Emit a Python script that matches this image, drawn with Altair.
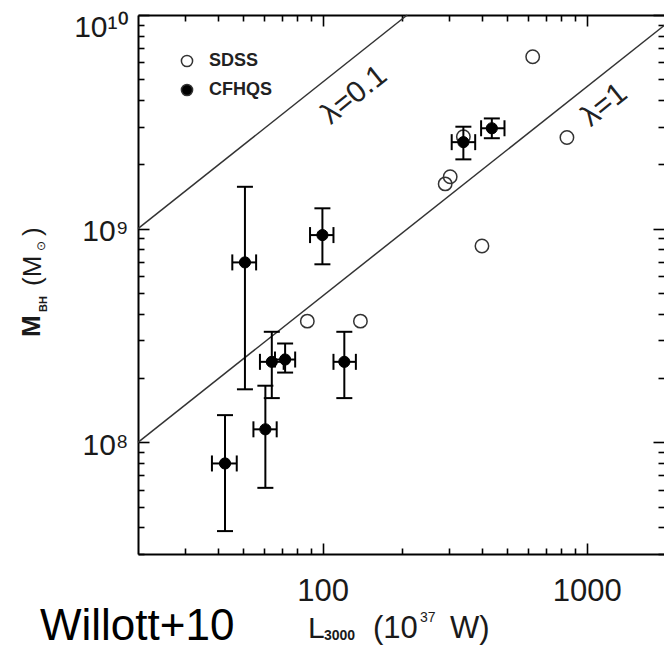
import altair as alt
import pandas as pd

# ---------------- data ----------------
# CFHQS quasars (filled) with error bars
cfhqs_L    = [50.8, 99.8, 64.2, 72.1, 120.8, 60.7, 42.7, 341, 437]
cfhqs_M    = [6.95e8, 9.33e8, 2.38e8, 2.44e8, 2.38e8, 1.15e8, 7.96e7, 2.54e9, 2.95e9]
cfhqs_L_lo = [45.5, 89.6, 57.9, 66.0, 109.9, 54.7, 38.1, 308, 398]
cfhqs_L_hi = [56.0, 109.9, 71.2, 78.7, 133.6, 67.0, 47.3, 378, 488]
cfhqs_M_lo = [1.77e8, 6.81e8, 1.61e8, 2.12e8, 1.61e8, 6.12e7, 3.84e7, 2.11e9, 2.65e9]
cfhqs_M_hi = [1.57e9, 1.245e9, 3.29e8, 2.90e8, 3.29e8, 1.84e8, 1.34e8, 3.0e9, 3.28e9]

# SDSS quasars (open)
sdss_L = [624, 841, 401, 291, 304, 341, 87.5, 139]
sdss_M = [6.38e9, 2.67e9, 8.30e8, 1.62e9, 1.75e9, 2.69e9, 3.69e8, 3.69e8]

# Eddington-ratio lines
lam_names = ["λ=0.1", "λ=0.1", "λ=1", "λ=1"]
lam_L = [20, 209, 20, 2000]
lam_M = [1e9, 1e10, 1e8, 9.1e9]

lam_label_text = ["λ=0.1", "λ=1"]
lam_label_L = [131.5, 1164]
lam_label_M = [4.22e9, 3.79e9]

survey_names = ["SDSS", "CFHQS"]

# tick values
x_major = [100, 1000]
x_minor = [30, 40, 50, 60, 70, 80, 90, 200, 300, 400, 500, 600, 700, 800, 900]
y_major = [1e8, 1e9, 1e10]
y_minor = [3e7, 4e7, 5e7, 6e7, 7e7, 8e7, 9e7,
           2e8, 3e8, 4e8, 5e8, 6e8, 7e8, 8e8, 9e8,
           2e9, 3e9, 4e9, 5e9, 6e9, 7e9, 8e9, 9e9]

# text pieces
x_title_parts = ["L", "3000", "(10", "37", "W)"]
y_title_parts = ["M", "BH", "(M", "⊙", ")"]
credit = ["Willott+10"]

# ---------------- tables ----------------
cf_df = pd.DataFrame({"L": cfhqs_L, "M": cfhqs_M, "L_lo": cfhqs_L_lo, "L_hi": cfhqs_L_hi,
                      "M_lo": cfhqs_M_lo, "M_hi": cfhqs_M_hi,
                      "survey": [survey_names[1]] * len(cfhqs_L)})
sd_df = pd.DataFrame({"L": sdss_L, "M": sdss_M, "survey": [survey_names[0]] * len(sdss_L)})
lam_df = pd.DataFrame({"name": lam_names, "L": lam_L, "M": lam_M})
lab_df = pd.DataFrame({"text": lam_label_text, "L": lam_label_L, "M": lam_label_M})

FONT = "Liberation Sans"
W, H = 526, 539
xs = alt.Scale(type="log", domain=[20, 1960], nice=False)
ys = alt.Scale(type="log", domain=[3e7, 1e10], nice=False)


def tick_axis(orient, values, size, **kw):
    return alt.Axis(orient=orient, values=values, tickSize=size, offset=-size,
                    domain=False, grid=False, title=None, tickColor="black",
                    tickWidth=1.6, labelFlush=False, labelOverlap=False, **kw)


def domain_axis(orient):
    return alt.Axis(orient=orient, ticks=False, labels=False, grid=False, title=None,
                    domain=True, domainColor="black", domainWidth=2)


fill_scale = alt.Scale(domain=survey_names, range=["transparent", "black"])
legend = alt.Legend(title=None, orient="none", legendX=40, legendY=37, padding=0,
                    symbolType="circle", symbolSize=125, symbolStrokeColor="#333",
                    symbolStrokeWidth=1.5, labelFont=FONT, labelFontSize=18,
                    labelFontWeight="bold", labelColor="#222", labelOffset=13,
                    rowPadding=11)

lines = alt.Chart(lam_df).mark_line(color="#333", strokeWidth=1.5).encode(
    x=alt.X("L:Q", scale=xs, axis=tick_axis("bottom", x_major, 11, labels=True, format="d",
                                            labelFont=FONT, labelFontSize=31,
                                            labelColor="#1a1a1a", labelPadding=22)),
    y=alt.Y("M:Q", scale=ys, axis=tick_axis(
        "left", y_major, 11, labels=True, labelFont=FONT, labelFontSize=30,
        labelColor="#1a1a1a", labelPadding=10,
        labelExpr="datum.value > 5e9 ? '10¹⁰' : (datum.value > 5e8 ? '10⁹' : '10⁸')",
        labelOffset={"condition": {"test": "datum.value > 5e9", "value": 12}, "value": 3})),
    detail="name:N",
)

sdss = alt.Chart(sd_df).mark_point(shape="circle", filled=True, size=180, stroke="#333",
                                   strokeWidth=1.5, opacity=1).encode(
    x=alt.X("L:Q", scale=xs, axis=tick_axis("bottom", x_minor, 6, labels=False)),
    y=alt.Y("M:Q", scale=ys, axis=tick_axis("left", y_minor, 6, labels=False)),
    fill=alt.Fill("survey:N", scale=fill_scale, legend=legend),
)

yerr = alt.Chart(cf_df).mark_rule(color="black", strokeWidth=2).encode(
    x=alt.X("L:Q", scale=xs, axis=tick_axis("top", x_major, 11, labels=False)),
    y=alt.Y("M_lo:Q", scale=ys, axis=tick_axis("right", y_major, 11, labels=False)),
    y2="M_hi:Q",
)

xerr = alt.Chart(cf_df).mark_rule(color="black", strokeWidth=2).encode(
    x=alt.X("L_lo:Q", scale=xs, axis=tick_axis("top", x_minor, 6, labels=False)),
    x2="L_hi:Q",
    y=alt.Y("M:Q", scale=ys, axis=tick_axis("right", y_minor, 6, labels=False)),
)

ycaps = alt.Chart(cf_df).transform_fold(["M_lo", "M_hi"], as_=["which", "Mc"]).mark_tick(
    orient="horizontal", size=16, thickness=2, color="black", opacity=1).encode(
    x=alt.X("L:Q", scale=xs, axis=domain_axis("bottom")),
    y=alt.Y("Mc:Q", scale=ys, axis=domain_axis("left")),
)

xcaps = alt.Chart(cf_df).transform_fold(["L_lo", "L_hi"], as_=["which", "Lc"]).mark_tick(
    orient="vertical", size=16, thickness=2, color="black", opacity=1).encode(
    x=alt.X("Lc:Q", scale=xs, axis=domain_axis("top")),
    y=alt.Y("M:Q", scale=ys, axis=None),
)

cf_pts = alt.Chart(cf_df).mark_point(shape="circle", filled=True, size=125, stroke="black",
                                     strokeWidth=1, opacity=1).encode(
    x=alt.X("L:Q", scale=xs, axis=None),
    y=alt.Y("M:Q", scale=ys, axis=None),
    fill=alt.Fill("survey:N", scale=fill_scale, legend=legend),
)

lam_text = alt.Chart(lab_df).mark_text(angle=321.3, font=FONT, fontSize=30, color="#222").encode(
    x=alt.X("L:Q", scale=xs, axis=None),
    y=alt.Y("M:Q", scale=ys, axis=None),
    text="text:N",
)


def piece(txt, x, y, size, weight="normal", angle=0):
    kw = {}
    if angle:
        kw["angle"] = angle
    return alt.Chart(pd.DataFrame({"t": [txt]})).mark_text(
        font=FONT, fontSize=size, fontWeight=weight, align="left", baseline="alphabetic",
        color="#1a1a1a", **kw).encode(x=alt.value(x), y=alt.value(y), text="t:N")


xt = [
    piece(x_title_parts[0], 170, 623, 30),
    piece(x_title_parts[1], 186, 625, 14, "bold"),
    piece(x_title_parts[2], 235, 623, 31),
    piece(x_title_parts[3], 282, 607, 14),
    piece(x_title_parts[4], 312, 623, 31),
]
yt = [
    piece(y_title_parts[0], -98, 322, 26, "bold", 270),
    piece(y_title_parts[1], -91, 297, 11, "bold", 270),
    piece(y_title_parts[2], -97, 271, 26, "normal", 270),
    piece(y_title_parts[3], -93, 236, 12, "normal", 270),
    piece(y_title_parts[4], -97, 221, 26, "normal", 270),
]
cr = alt.Chart(pd.DataFrame({"t": credit})).mark_text(
    font=FONT, fontSize=44, align="left", baseline="alphabetic", color="black").encode(
    x=alt.value(-98), y=alt.value(625), text="t:N")

chart = alt.layer(lines, sdss, yerr, xerr, ycaps, xcaps, cf_pts, lam_text, *xt, *yt, cr).resolve_axis(
    x="independent", y="independent"
).properties(
    width=W, height=H,
    autosize=alt.AutoSizeParams(type="none"),
    padding={"left": 138, "top": 15, "right": 0, "bottom": 94},
).configure_view(stroke="transparent")

chart.save("out.html", embed_options={"renderer": "svg", "actions": False})
